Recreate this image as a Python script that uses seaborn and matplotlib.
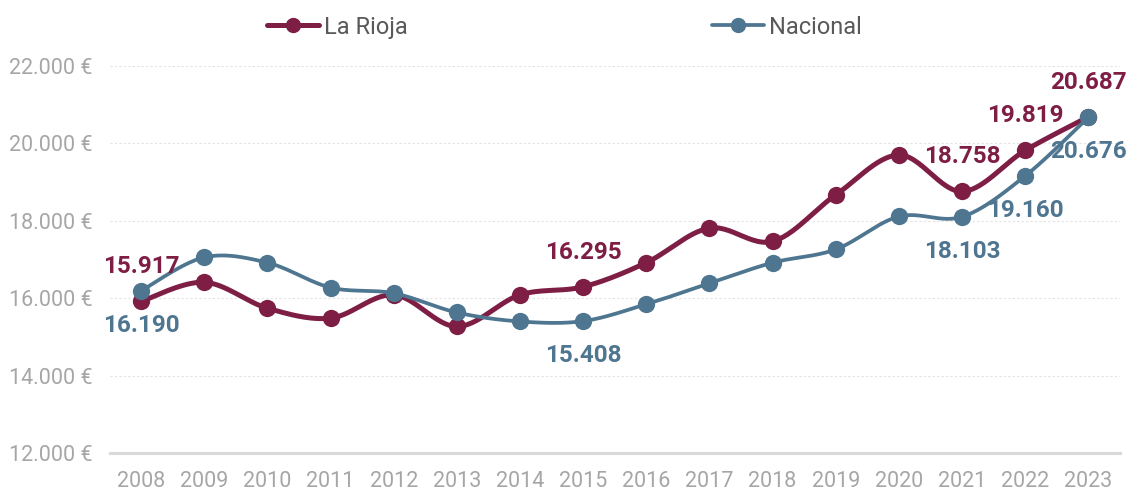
import numpy as np
import pandas as pd
import matplotlib
matplotlib.use("Agg")
import matplotlib.pyplot as plt
from matplotlib.lines import Line2D
import seaborn as sns

# Annual values (euros)
years = ["2008", "2009", "2010", "2011", "2012", "2013", "2014", "2015",
         "2016", "2017", "2018", "2019", "2020", "2021", "2022", "2023"]
la_rioja = [15917, 16412, 15742, 15485, 16086, 15270, 16086, 16295,
            16918, 17811, 17468, 18670, 19700, 18758, 19819, 20687]
nacional = [16190, 17056, 16918, 16275, 16129, 15631, 15399, 15408,
            15845, 16386, 16918, 17262, 18112, 18103, 19160, 20676]

# Years whose values are printed next to the markers
labelled_years = ["2008", "2015", "2021", "2022", "2023"]

y_ticks = [12000, 14000, 16000, 18000, 20000, 22000]

C_RIOJA = "#7E1E45"
C_NAC = "#4F7690"
C_TICK = "#A6A6A6"

sns.set_theme(style="white")
plt.rcParams["font.family"] = ["Roboto", "DejaVu Sans"]


def smooth(values, steps=30):
    """Cubic Bezier smoothing through every point (Catmull-Rom style)."""
    p = np.column_stack([np.arange(len(values), dtype=float),
                         np.asarray(values, dtype=float)])
    ext = np.vstack([p[0], p, p[-1]])
    xs, ys = [], []
    t = np.linspace(0, 1, steps)[:, None]
    for i in range(len(p) - 1):
        p0, p1, p2, p3 = ext[i], ext[i + 1], ext[i + 2], ext[i + 3]
        c1 = p1 + (p2 - p0) / 6.0
        c2 = p2 - (p3 - p1) / 6.0
        seg = ((1 - t) ** 3) * p1 + 3 * ((1 - t) ** 2) * t * c1 \
            + 3 * (1 - t) * t ** 2 * c2 + t ** 3 * p2
        if i > 0:
            seg = seg[1:]
        xs.append(seg[:, 0])
        ys.append(seg[:, 1])
    return np.concatenate(xs), np.concatenate(ys)


fig = plt.figure(figsize=(11.29, 4.95), dpi=100)
ax = fig.add_axes([0.097, 0.0848, 0.895, 0.7819])

series = [("La Rioja", la_rioja, C_RIOJA, 3.6, 1),
          ("Nacional", nacional, C_NAC, 2.7, -1)]

for name, vals, color, lw, side in series:
    sx, sy = smooth(vals)
    curve = pd.DataFrame({"x": sx, "y": sy})
    sns.lineplot(data=curve, x="x", y="y", ax=ax, color=color, linewidth=lw,
                 sort=False, estimator=None, zorder=3 if side > 0 else 4,
                 solid_capstyle="round")
    pts = pd.DataFrame({"x": np.arange(len(vals)), "y": vals})
    sns.scatterplot(data=pts, x="x", y="y", ax=ax, color=color, s=155,
                    edgecolor=color, linewidth=0, zorder=3.5 if side > 0 else 4.5)
    for yr in labelled_years:
        i = years.index(yr)
        txt = f"{vals[i]:,}".replace(",", ".")
        ax.annotate(txt, (i, vals[i]), xytext=(0, 25 * side),
                    textcoords="offset points", ha="center", va="center",
                    fontsize=17.5, fontweight="bold", color=color, zorder=6)

ax.set_xlim(-0.5, len(years) - 0.5)
ax.set_ylim(y_ticks[0], y_ticks[-1])
ax.set_xticks(range(len(years)))
ax.set_xticklabels(years)
ax.set_yticks(y_ticks)
ax.set_yticklabels([f"{v:,} €".replace(",", ".") for v in y_ticks])
ax.tick_params(axis="both", labelsize=15.5, colors=C_TICK, length=0)
ax.tick_params(axis="x", pad=13)
ax.tick_params(axis="y", pad=12)
ax.set_xlabel("")
ax.set_ylabel("")

ax.yaxis.grid(True, color="#E3E3E3", linestyle=(0, (2, 2)), linewidth=0.8)
ax.set_axisbelow(True)
for s in ["top", "right", "left"]:
    ax.spines[s].set_visible(False)
ax.spines["bottom"].set_color("#D9D9D9")
ax.spines["bottom"].set_linewidth(2.2)

handles = [Line2D([0], [0], color=C_RIOJA, lw=3.6, marker="o", markersize=10,
                  solid_capstyle="round"),
           Line2D([0], [0], color=C_NAC, lw=2.7, marker="o", markersize=10,
                  solid_capstyle="round")]
leg = fig.legend(handles, ["La Rioja", "Nacional"], loc="center",
                 bbox_to_anchor=(0.5, 0.945), ncol=2, frameon=False,
                 fontsize=17, handlelength=2.2, handletextpad=0.2,
                 columnspacing=12.9)
for t in leg.get_texts():
    t.set_color("#595959")

fig.savefig("out.png", dpi=100)
